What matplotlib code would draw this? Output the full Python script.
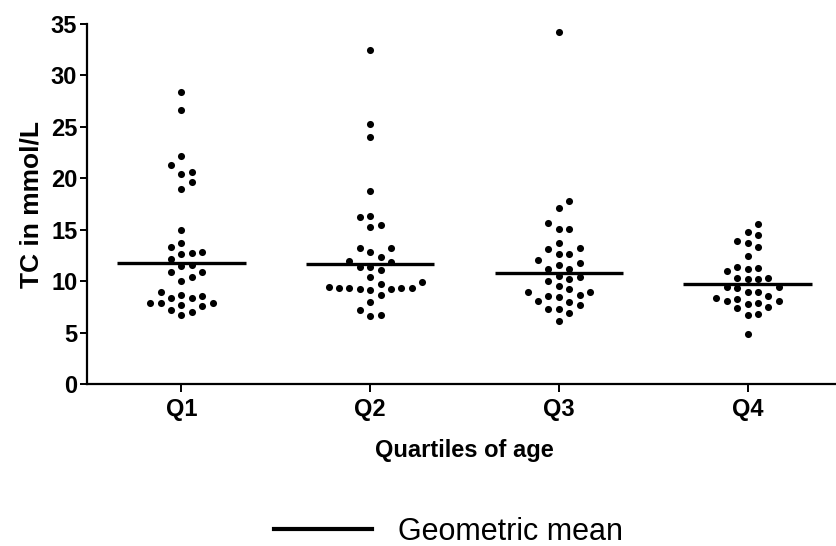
import matplotlib
matplotlib.use("Agg")
import matplotlib.pyplot as plt
import numpy as np
from matplotlib.lines import Line2D

plt.rcParams['font.family'] = ['Liberation Sans', 'DejaVu Sans']

# TC values (mmol/L) per age quartile
groups = ['Q1', 'Q2', 'Q3', 'Q4']

q1 = [28.4, 26.6, 22.2, 21.3, 20.4, 20.6, 19.6, 19.0, 15.0, 13.7, 13.3,
      12.6, 12.7, 12.8, 12.2, 11.6, 11.5, 10.9, 10.85, 10.4, 10.0,
      8.9, 8.6, 8.4, 8.4, 8.7, 7.7, 7.9, 7.9, 7.9, 7.6, 7.2, 7.0, 6.7]
q2 = [32.5, 25.3, 24.0, 18.8, 16.2, 16.3, 15.3, 15.5, 13.2, 12.8, 13.25,
      12.3, 11.9, 12.0, 11.4, 11.35, 11.1, 10.4,
      9.7, 9.35, 9.3, 9.2, 9.1, 9.2, 9.3, 9.3, 9.45, 9.9,
      8.7, 8.0, 7.2, 6.6, 6.7]
q3 = [34.2, 17.8, 17.1, 15.7, 15.1, 15.1, 13.7, 13.2, 13.1, 12.6, 12.6,
      12.05, 11.6, 11.8, 11.15, 11.15, 10.4, 10.5, 10.2, 10.0, 9.5, 9.2,
      8.9, 8.65, 8.55, 8.5, 8.9, 8.0, 8.1, 7.7, 7.25, 7.25, 6.9, 6.1]
q4 = [15.55, 14.5, 14.75, 13.75, 13.9, 13.3, 12.4, 11.4, 11.15, 11.0, 11.25,
      10.35, 10.2, 10.25, 10.35, 9.4, 8.95, 8.95, 9.3, 9.4,
      8.6, 8.3, 8.4, 8.1, 8.1, 7.8, 7.85, 7.5, 7.35, 6.8, 6.7, 4.9]

geo_means = [11.8, 11.66, 10.76, 9.7]


def swarm_offsets(values, step=0.055, min_dy=0.95):
    """Greedy beeswarm: each point takes the nearest free column slot."""
    vals = np.asarray(values)
    order = np.argsort(vals)
    offsets = np.zeros(len(vals))
    placed = []  # (slot, value)
    for i in order:
        v = vals[i]
        k = 0
        while True:
            for slot in ([0] if k == 0 else [k, -k]):
                if all(not (s == slot and abs(pv - v) < min_dy) for s, pv in placed):
                    placed.append((slot, v))
                    offsets[i] = slot * step
                    break
            else:
                k += 1
                continue
            break
    return offsets


fig = plt.figure(figsize=(8.37, 5.46), dpi=100)
ax = fig.add_axes([87 / 837, 1 - 384 / 546, 755 / 837, 360 / 546])

for pos, vals, gm in zip(range(1, 5), [q1, q2, q3, q4], geo_means):
    xs = pos + swarm_offsets(vals)
    ax.scatter(xs, vals, s=26, color='black', linewidths=0, zorder=3)
    ax.hlines(gm, pos - 0.34, pos + 0.34, color='black', lw=2.4, zorder=2)

ax.set_xlim(0.5, 4.5)
ax.set_ylim(0, 35)
ax.set_yticks(range(0, 36, 5))
ax.set_xticks(range(1, 5))
ax.set_xticklabels(groups)

for side in ['top', 'right']:
    ax.spines[side].set_visible(False)
for side in ['left', 'bottom']:
    ax.spines[side].set_linewidth(1.6)

ax.tick_params(axis='y', length=5, width=1.4, pad=2, labelsize=17)
ax.tick_params(axis='x', length=6, width=1.4, pad=4, labelsize=17)
for lbl in ax.get_xticklabels() + ax.get_yticklabels():
    lbl.set_fontweight('bold')

ax.set_ylabel('TC in mmol/L', fontsize=19, fontweight='bold', labelpad=5)
ax.set_xlabel('Quartiles of age', fontsize=17, fontweight='bold', labelpad=13)

handle = Line2D([], [], color='black', lw=3)
fig.legend([handle], ['Geometric mean'], loc='center',
           bbox_to_anchor=(0.536, 0.026), frameon=False, fontsize=22,
           handlelength=3.2, handletextpad=0.85)

fig.savefig('out.png', dpi=100)
